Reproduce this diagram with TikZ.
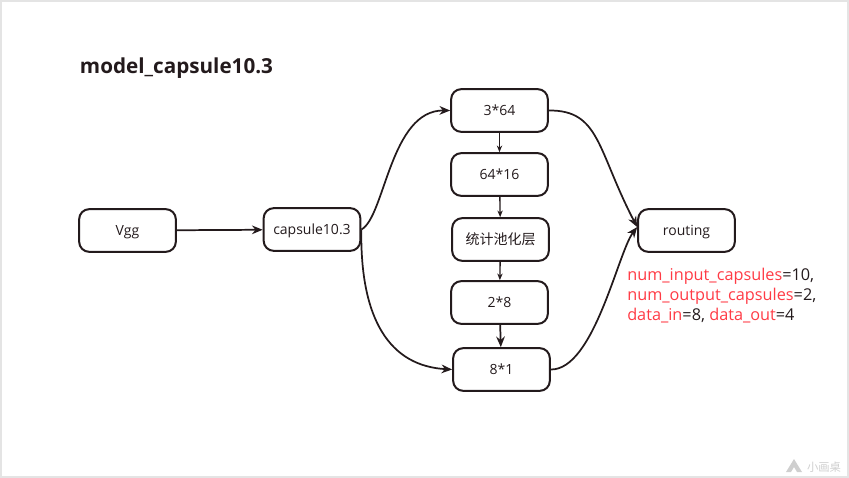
\documentclass[tikz,border=0pt]{standalone}
\usepackage{fontspec}
\setmainfont{Open Sans}
\newfontfamily\cjk{Noto Sans CJK SC}
\definecolor{inkdark}{HTML}{231A1C}
\definecolor{notered}{HTML}{FF3B45}
\definecolor{framegray}{HTML}{E4E4E4}
\definecolor{markgray}{HTML}{CFCFCF}
\tikzset{
  blockbox/.style={draw=inkdark, line width=1.5pt, rounded corners=7.5pt, minimum width=72.5pt, minimum height=32pt, inner sep=0pt, text=inkdark, text height=6.8pt, text depth=0pt, font=\fontsize{10.5}{12}\selectfont},
  flowline/.style={draw=inkdark, line width=1.3pt, -{Stealth[length=8pt,width=6.5pt]}},
  thinline/.style={draw=inkdark, line width=1pt, -{Stealth[length=5pt,width=4pt]}},
}
\usetikzlibrary{arrows.meta}
\begin{document}
\begin{tikzpicture}[x=0.75pt,y=-0.75pt]
\useasboundingbox (0,0) rectangle (849,478);
\draw [framegray, line width=1.5pt] (1,1) rectangle (848,477);

\node at (176.5,68.5) (title) [text=inkdark, font=\fontsize{15.5}{18}\selectfont\bfseries] {model\_capsule10.3};

\node at (127.5,230.5) [blockbox] (vgg) {Vgg};
\node at (312,229.5) [blockbox] (capsule) {capsule10.3};
\node at (499.5,110.5) [blockbox] (fc1) {3*64};
\node at (499.5,174.5) [blockbox] (fc2) {64*16};
\node at (500.5,239.5) [blockbox] (pool) {\cjk 统计池化层};
\node at (499.5,302.5) [blockbox] (fc3) {2*8};
\node at (501.5,369.5) [blockbox] (fc4) {8*1};
\node at (686.5,230.5) [blockbox] (routing) {routing};

\draw [flowline] (vgg) -- (capsule);
\draw [flowline] (capsule.east) .. controls (385,217) and (390,110) .. (fc1.west);
\draw [flowline] (capsule.east) .. controls (360,320) and (390,366) .. (fc4.west);
\draw [flowline] (fc1.east) .. controls (600,110) and (597,150) .. (routing.176);
\draw [flowline] (fc4.east) .. controls (594,370) and (618,252) .. (routing.176);
\draw [thinline] (fc1) -- (fc2);
\draw [thinline] (fc2) -- (pool);
\draw [thinline] (pool) -- (fc3);
\draw [flowline] (fc3) -- (fc4);

\node at (627,295.5) (params) [anchor=west, align=left, inner sep=0pt, text=inkdark, font=\fontsize{12.2}{15}\selectfont] {\textcolor{notered}{num\_input\_capsules}=10,\\ \textcolor{notered}{num\_output\_capsules}=2,\\ \textcolor{notered}{data\_in}=8, \textcolor{notered}{data\_out}=4};

\fill [markgray] (786,472) -- (794,459) -- (802,472) -- (797,472) -- (794,467) -- (791,472) -- cycle;
\node at (824,467) (mark) [text=markgray, font=\cjk\fontsize{8.5}{10}\selectfont] {小画桌};
\end{tikzpicture}
\end{document}
